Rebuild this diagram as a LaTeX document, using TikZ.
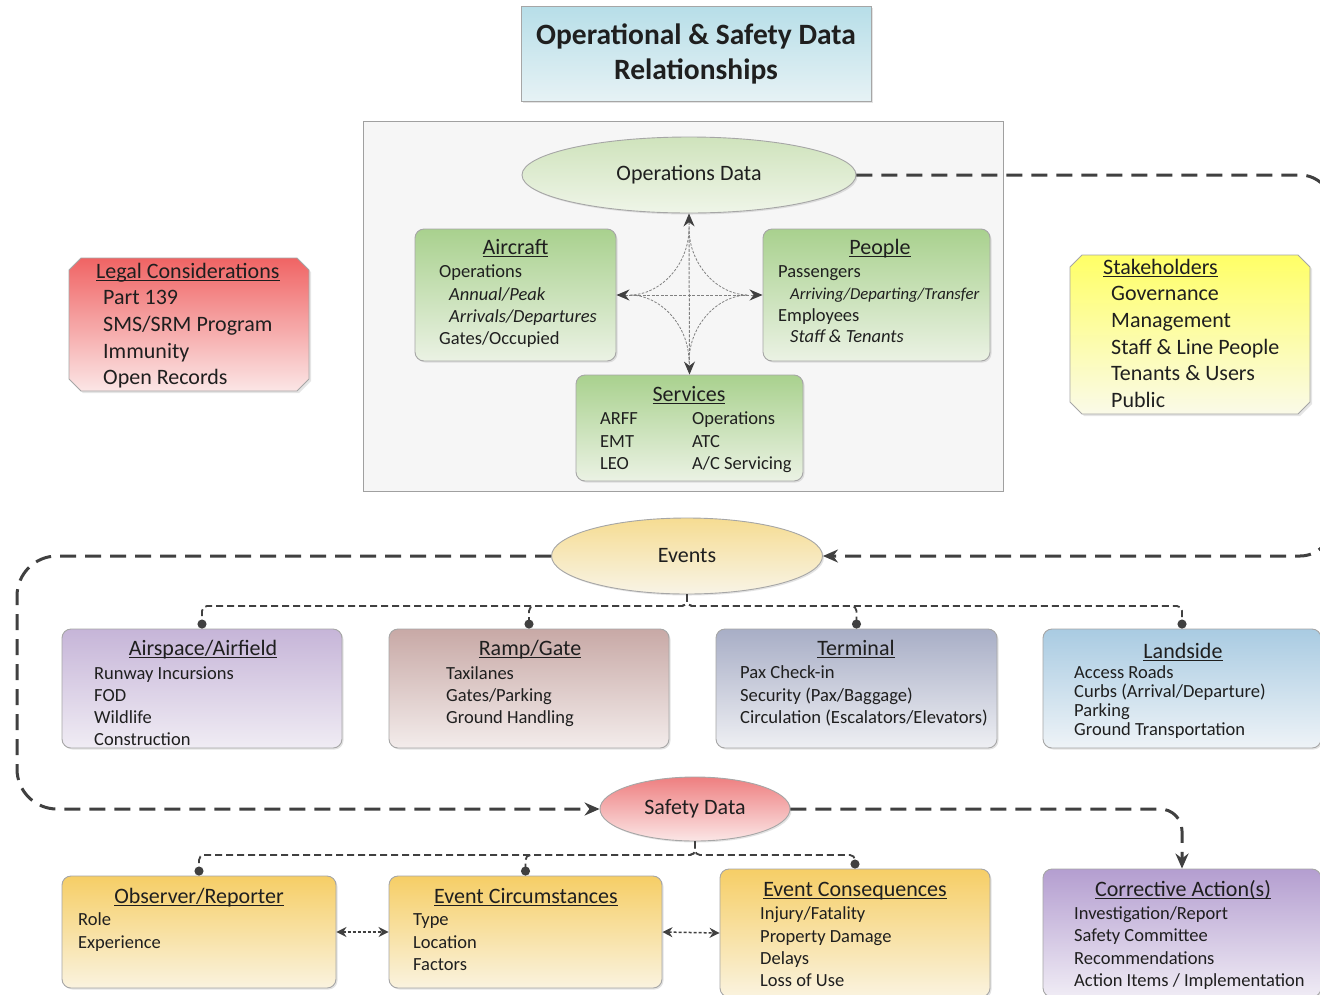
\documentclass[tikz,border=0pt]{standalone}
\usepackage{fontspec}
\setmainfont{Carlito}
\usetikzlibrary{arrows.meta,shapes.geometric,shadows}
\definecolor{darkline}{HTML}{404040}
\definecolor{textc}{HTML}{1F1F1F}
\definecolor{boxBorder}{HTML}{A6A6A6}
\definecolor{titleTop}{HTML}{B7DEE8}
\definecolor{titleBot}{HTML}{E6F2F5}
\definecolor{frameFill}{HTML}{F6F6F6}
\definecolor{frameBorder}{HTML}{A0A0A0}
\definecolor{opsTop}{HTML}{CFE3BC}
\definecolor{opsBot}{HTML}{EFF5E8}
\definecolor{greenTop}{HTML}{A9D18E}
\definecolor{greenBot}{HTML}{EBF2E4}
\definecolor{legalTop}{HTML}{F06464}
\definecolor{legalBot}{HTML}{FBE6E6}
\definecolor{stakeTop}{HTML}{FFFF66}
\definecolor{stakeBot}{HTML}{FAFAE8}
\definecolor{eventsTop}{HTML}{F6DC92}
\definecolor{eventsBot}{HTML}{F8F4E6}
\definecolor{airTop}{HTML}{C6B5D8}
\definecolor{airBot}{HTML}{F0ECF4}
\definecolor{rampTop}{HTML}{C8A9A6}
\definecolor{rampBot}{HTML}{F3ECEB}
\definecolor{termTop}{HTML}{A8AEC6}
\definecolor{termBot}{HTML}{EEEFF3}
\definecolor{landTop}{HTML}{A9CBE2}
\definecolor{landBot}{HTML}{EEF3F7}
\definecolor{safetyTop}{HTML}{EE7F80}
\definecolor{safetyBot}{HTML}{FBE6E6}
\definecolor{orangeTop}{HTML}{F6CE66}
\definecolor{orangeBot}{HTML}{FAF3DF}
\definecolor{corrTop}{HTML}{B49ED0}
\definecolor{corrBot}{HTML}{F0ECF5}
\newcommand\itemtab[1]{\begin{tabular}[t]{@{}l@{}}#1\end{tabular}}
\newcommand\hdul[1]{\leavevmode\setbox0\hbox{#1}\rlap{\rule[-2.6pt]{\wd0}{1.2pt}}\box0}
\tikzset{
  rbox/.style={draw=boxBorder, line width=0.9pt, rounded corners=9pt, inner sep=0pt,
    drop shadow={shadow xshift=1.5pt, shadow yshift=-1.5pt, opacity=0.22}},
  chpath/.style={draw=boxBorder, line width=0.9pt,
    drop shadow={shadow xshift=2pt, shadow yshift=-2pt, opacity=0.2}},
  ell/.style={ellipse, draw=boxBorder, line width=0.9pt, inner sep=0pt,
    drop shadow={shadow xshift=1.5pt, shadow yshift=-1.5pt, opacity=0.22},
    font=\fontsize{22}{26}\selectfont},
  head/.style={anchor=base, inner sep=0pt, font=\fontsize{22}{26}\selectfont},
  itemlist/.style={anchor=base west, inner sep=0pt},
  bigconn/.style={draw=darkline, line width=3pt, dash pattern=on 16pt off 9pt},
  bigtip/.style={-{Stealth[length=15pt,width=13pt]}},
  branch/.style={draw=darkline, line width=1.8pt, dash pattern=on 7pt off 4pt, rounded corners=5pt,
    -{Circle[length=9pt,width=9pt]}},
  carrow/.style={draw=gray, line width=1pt, dash pattern=on 3pt off 1.5pt,
    {Stealth[length=13pt,width=11pt,color=darkline]}-{Stealth[length=13pt,width=11pt,color=darkline]}},
  astro/.style={draw=gray, line width=0.8pt, dash pattern=on 2.5pt off 1.5pt},
  dbl/.style={draw=darkline, line width=1.5pt, dash pattern=on 3pt off 2pt,
    {Stealth[length=10pt,width=10pt]}-{Stealth[length=10pt,width=10pt]}},
  every node/.append style={text=textc}
}
\begin{document}
\begin{tikzpicture}[x=1pt,y=-1pt]
\useasboundingbox (0,0) rectangle (1320,994);
\fill[white] (0,0) rectangle (1320,994);

% title
\node[rbox, rounded corners=0pt, top color=titleTop, bottom color=titleBot, minimum width=350pt, minimum height=95pt,
  align=center, font=\bfseries\fontsize{29.5}{35}\selectfont] (title) at (696,53.5) {Operational \& Safety Data\\Relationships};

% operations frame
\node[draw=frameBorder, fill=frameFill, line width=1pt, minimum width=640pt, minimum height=370pt, inner sep=0pt] (frame) at (683,306) {};

\node[ell, top color=opsTop, bottom color=opsBot, minimum width=334pt, minimum height=76pt] (opsd) at (689,175) {Operations Data};

% aircraft
\node[rbox, top color=greenTop, bottom color=greenBot, minimum width=201pt, minimum height=132pt] (airc) at (515.5,295) {};
\node[head] (aircH) at (515.5,254.6) {\hdul{Aircraft}};
\node[itemlist, font=\fontsize{18.5}{22.4}\selectfont] (aircL) at (439,277.6)
  {\itemtab{Operations\\\hspace*{10pt}\textit{Annual/Peak}\\\hspace*{10pt}\textit{Arrivals/Departures}\\Gates/Occupied}};

% people
\node[rbox, top color=greenTop, bottom color=greenBot, minimum width=227pt, minimum height=132pt] (ppl) at (876.5,295) {};
\node[head] (pplH) at (880,254.6) {\hdul{People}};
\node[itemlist, font=\fontsize{18.5}{21.7}\selectfont] (pplL) at (778,277.6)
  {\itemtab{Passengers\\\hspace*{12pt}{\fontsize{16.7}{20}\selectfont\itshape Arriving/Departing/Transfer}\\Employees\\\hspace*{12pt}\textit{Staff \& Tenants}}};

% services
\node[rbox, top color=greenTop, bottom color=greenBot, minimum width=227pt, minimum height=106pt] (serv) at (689.5,428) {};
\node[head] (servH) at (689,401.6) {\hdul{Services}};
\node[itemlist, font=\fontsize{18.5}{22.5}\selectfont] (servL) at (600,424.6) {\itemtab{ARFF\\EMT\\LEO}};
\node[itemlist, font=\fontsize{18.5}{22.5}\selectfont] (servR) at (692,424.6) {\itemtab{Operations\\ATC\\A/C Servicing}};

% central arrows
\coordinate (ct) at (689,228);
\coordinate (cb) at (689,362);
\coordinate (cl) at (630,295);
\coordinate (cr) at (748,295);
\draw[astro] (ct) .. controls (689,265) and (660,295) .. (cl)
  .. controls (660,295) and (689,325) .. (cb)
  .. controls (689,325) and (718,295) .. (cr)
  .. controls (718,295) and (689,265) .. (ct);
\draw[carrow] (opsd.south) -- (serv.north);
\draw[carrow] (airc.east) -- (ppl.west);

% legal
\path[chpath, top color=legalTop, bottom color=legalBot]
  (81,258) -- (297,258) -- (309,270) -- (309,379) -- (297,391) -- (81,391) -- (69,379) -- (69,270) -- cycle;
\node[itemlist, font=\fontsize{22}{26.7}\selectfont] (legalH) at (96,278.6) {\hdul{Legal Considerations}};
\node[itemlist, font=\fontsize{22}{26.7}\selectfont] (legalL) at (103,304.6) {\itemtab{Part 139\\SMS/SRM Program\\Immunity\\Open Records}};

% stakeholders
\path[chpath, top color=stakeTop, bottom color=stakeBot]
  (1082,255) -- (1298,255) -- (1310,267) -- (1310,402) -- (1298,414) -- (1082,414) -- (1070,402) -- (1070,267) -- cycle;
\node[itemlist, font=\fontsize{22}{26.7}\selectfont] (stakeH) at (1103,274.6) {\hdul{Stakeholders}};
\node[itemlist, font=\fontsize{22}{26.7}\selectfont] (stakeL) at (1111,300.6) {\itemtab{Governance\\Management\\Staff \& Line People\\Tenants \& Users\\Public}};

% events
\node[ell, top color=eventsTop, bottom color=eventsBot, minimum width=271pt, minimum height=76pt] (ev) at (687,556) {Events};

\node[rbox, top color=airTop, bottom color=airBot, minimum width=280pt, minimum height=119pt] (air) at (202,688.5) {};
\node[head] (airH) at (203,655.6) {\hdul{Airspace/Airfield}};
\node[itemlist, font=\fontsize{18.5}{22}\selectfont] (airL) at (94,679.6) {\itemtab{Runway Incursions\\FOD\\Wildlife\\Construction}};

\node[rbox, top color=rampTop, bottom color=rampBot, minimum width=280pt, minimum height=119pt] (ramp) at (529,688.5) {};
\node[head] (rampH) at (530,655.6) {\hdul{Ramp/Gate}};
\node[itemlist, font=\fontsize{18.5}{22}\selectfont] (rampL) at (446,679.6) {\itemtab{Taxilanes\\Gates/Parking\\Ground Handling}};

\node[rbox, top color=termTop, bottom color=termBot, minimum width=281pt, minimum height=119pt] (term) at (856.5,688.5) {};
\node[head] (termH) at (856,655.6) {\hdul{Terminal}};
\node[itemlist, font=\fontsize{18.6}{22.5}\selectfont] (termL) at (740,678.6) {\itemtab{Pax Check-in\\Security (Pax/Baggage)\\Circulation (Escalators/Elevators)}};

\node[rbox, top color=landTop, bottom color=landBot, minimum width=278pt, minimum height=119pt] (land) at (1182,688.5) {};
\node[head] (landH) at (1183,658.6) {\hdul{Landside}};
\node[itemlist, font=\fontsize{18.5}{18.8}\selectfont] (landL) at (1074,678.6) {\itemtab{Access Roads\\Curbs (Arrival/Departure)\\Parking\\Ground Transportation}};

\coordinate (evj) at (687,606);
\draw[branch] (ev.south) -- (evj) -| (air.north);
\draw[branch] (ev.south) -- (evj) -| (ramp.north);
\draw[branch] (ev.south) -- (evj) -| (term.north);
\draw[branch] (ev.south) -- (evj) -| (land.north);

% safety data
\node[ell, top color=safetyTop, bottom color=safetyBot, minimum width=190pt, minimum height=64pt] (sd) at (695,809) {Safety Data};

\node[rbox, top color=orangeTop, bottom color=orangeBot, minimum width=274pt, minimum height=112pt] (obs) at (199,932) {};
\node[head] (obsH) at (199,903.6) {\hdul{Observer/Reporter}};
\node[itemlist, font=\fontsize{18.5}{22.8}\selectfont] (obsL) at (78,925.6) {\itemtab{Role\\Experience}};

\node[rbox, top color=orangeTop, bottom color=orangeBot, minimum width=273pt, minimum height=112pt] (circ) at (525.5,932) {};
\node[head] (circH) at (526,903.6) {\hdul{Event Circumstances}};
\node[itemlist, font=\fontsize{18.5}{22.6}\selectfont] (circL) at (413,925.6) {\itemtab{Type\\Location\\Factors}};

\node[rbox, top color=orangeTop, bottom color=orangeBot, minimum width=270pt, minimum height=128pt] (cons) at (855,933) {};
\node[head] (consH) at (855,896.6) {\hdul{Event Consequences}};
\node[itemlist, font=\fontsize{18.5}{22.4}\selectfont] (consL) at (760,919.6) {\itemtab{Injury/Fatality\\Property Damage\\Delays\\Loss of Use}};

\node[rbox, top color=corrTop, bottom color=corrBot, minimum width=278pt, minimum height=128pt] (corr) at (1182,933) {};
\node[head] (corrH) at (1183,896.6) {\hdul{Corrective Action(s)}};
\node[itemlist, font=\fontsize{18.5}{22.3}\selectfont] (corrL) at (1074,919.6) {\itemtab{Investigation/Report\\Safety Committee\\Recommendations\\Action Items / Implementation}};

\coordinate (sdj) at (695,855);
\draw[branch] (sd.south) -- (sdj) -| (obs.north);
\draw[branch] (sd.south) -- (sdj) -| (circ.north);
\draw[branch] (sd.south) -- (sdj) -| (cons.north);

\draw[dbl] (obs.east) -- (circ.west);
\draw[dbl] (circ.east) -- (cons.west);

% big dashed loops
\coordinate (rtop) at (1332,175);
\coordinate (rbot) at (1332,556);
\coordinate (ltop) at (17,556);
\coordinate (lbot) at (17,809);
\draw[bigconn, bigtip, rounded corners=32pt] (opsd.east) -- (rtop) -- (rbot) -- (ev.east);
\draw[bigconn, bigtip, rounded corners=40pt] (ev.west) -- (ltop) -- (lbot) -- (sd.west);
\draw[bigconn, bigtip, rounded corners=22pt] (sd.east) -| (corr.north);
\end{tikzpicture}
\end{document}
